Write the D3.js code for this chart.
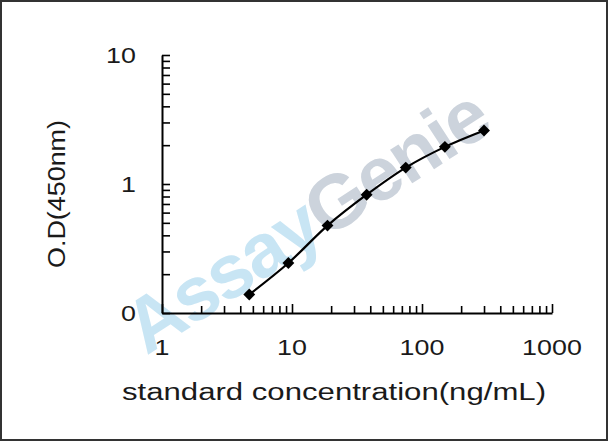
<!DOCTYPE html>
<html>
<head>
<meta charset="utf-8">
<script src="https://cdn.jsdelivr.net/npm/d3@7"></script>
<style>
  body { margin: 0; background: #fff; }
  text { font-family: "Liberation Sans", Arial, sans-serif; }
</style>
</head>
<body>
<script>
// standard curve
const concentration = [4.69, 9.38, 18.75, 37.5, 75, 150, 300];
const od450 = [0.139, 0.244, 0.476, 0.826, 1.34, 1.94, 2.6];

const xTicks = [1, 10, 100, 1000];
const xTickLabels = ['1', '10', '100', '1000'];
const yTicks = [0.1, 1, 10];
const yTickLabels = ['0', '1', '10'];

const W = 608, H = 441;

const svg = d3.select("body").append("svg")
    .attr("width", W)
    .attr("height", H);

svg.append("rect")
    .attr("x", 1).attr("y", 1)
    .attr("width", W - 2).attr("height", H - 2)
    .attr("fill", "#fff")
    .attr("stroke", "#333")
    .attr("stroke-width", 2);

const x = d3.scaleLog().domain([1, 1000]).range([162, 552]);
const y = d3.scaleLog().domain([0.1, 10]).range([313, 55]);

// watermark
const wm = svg.append("text")
    .attr("transform", "translate(306,220) rotate(-33)")
    .attr("text-anchor", "middle")
    .attr("dominant-baseline", "central")
    .style("font-size", "76px")
    .style("font-weight", "bold")
    .style("letter-spacing", "-2px");
wm.append("tspan").attr("fill", "#c8e5f4").text("Assay");
wm.append("tspan").attr("fill", "#ccd3dc").text("Genie");

// minor tick positions
function minors(lo, hi) {
    const out = [];
    for (let d = lo; d < hi; d *= 10)
        for (let k = 1; k < 10; k++) out.push(d * k);
    out.push(hi);
    return out;
}

const xAxis = svg.append("g")
    .attr("transform", `translate(0,${y(0.1)})`)
    .call(d3.axisBottom(x).tickValues(minors(1, 1000)).tickFormat("").tickSizeInner(-7).tickSizeOuter(0));
const yAxis = svg.append("g")
    .attr("transform", `translate(${x(1)},0)`)
    .call(d3.axisLeft(y).tickValues(minors(0.1, 10)).tickFormat("").tickSizeInner(-8).tickSizeOuter(0));

[xAxis, yAxis].forEach(g => {
    g.select(".domain").attr("stroke", "#000").attr("stroke-width", 2);
    g.selectAll(".tick line").attr("stroke", "#000").attr("stroke-width", 1.6);
});
xAxis.selectAll(".tick line").filter(d => xTicks.includes(d)).attr("y2", -9);

// stretch text a little, the source picture is wider than it is tall
function stretch(sel, k) {
    sel.each(function () {
        const w = this.getComputedTextLength();
        d3.select(this).attr("textLength", w * k).attr("lengthAdjust", "spacingAndGlyphs");
    });
}

const xl = svg.selectAll(".xl")
    .data(xTicks)
    .enter().append("text")
    .attr("x", d => x(d))
    .attr("y", 355)
    .attr("text-anchor", "middle")
    .style("font-size", "22px")
    .attr("fill", "#1a1a1a")
    .text((d, i) => xTickLabels[i]);
stretch(xl, 1.22);

const yl = svg.selectAll(".yl")
    .data(yTicks)
    .enter().append("text")
    .attr("x", 136)
    .attr("y", d => y(d) + 8)
    .attr("text-anchor", "end")
    .style("font-size", "22px")
    .attr("fill", "#1a1a1a")
    .text((d, i) => yTickLabels[i]);
stretch(yl, 1.22);

svg.append("text")
    .attr("x", 334)
    .attr("y", 400)
    .attr("text-anchor", "middle")
    .style("font-size", "23px")
    .attr("fill", "#1a1a1a")
    .attr("textLength", 424)
    .attr("lengthAdjust", "spacingAndGlyphs")
    .text("standard concentration(ng/mL)");

svg.append("text")
    .attr("transform", "translate(65,194) rotate(-90)")
    .attr("text-anchor", "middle")
    .style("font-size", "23px")
    .attr("fill", "#1a1a1a")
    .attr("textLength", 148)
    .attr("lengthAdjust", "spacingAndGlyphs")
    .text("O.D(450nm)");

const pts = concentration.map((c, i) => [c, od450[i]]);

svg.append("path")
    .datum(pts)
    .attr("fill", "none")
    .attr("stroke", "#000")
    .attr("stroke-width", 2.2)
    .attr("d", d3.line().x(d => x(d[0])).y(d => y(d[1])).curve(d3.curveCatmullRom));

svg.selectAll(".pt")
    .data(pts)
    .enter().append("path")
    .attr("transform", d => `translate(${x(d[0])},${y(d[1])})`)
    .attr("d", d3.symbol(d3.symbolDiamond2, 90))
    .attr("fill", "#000");
</script>
</body>
</html>
